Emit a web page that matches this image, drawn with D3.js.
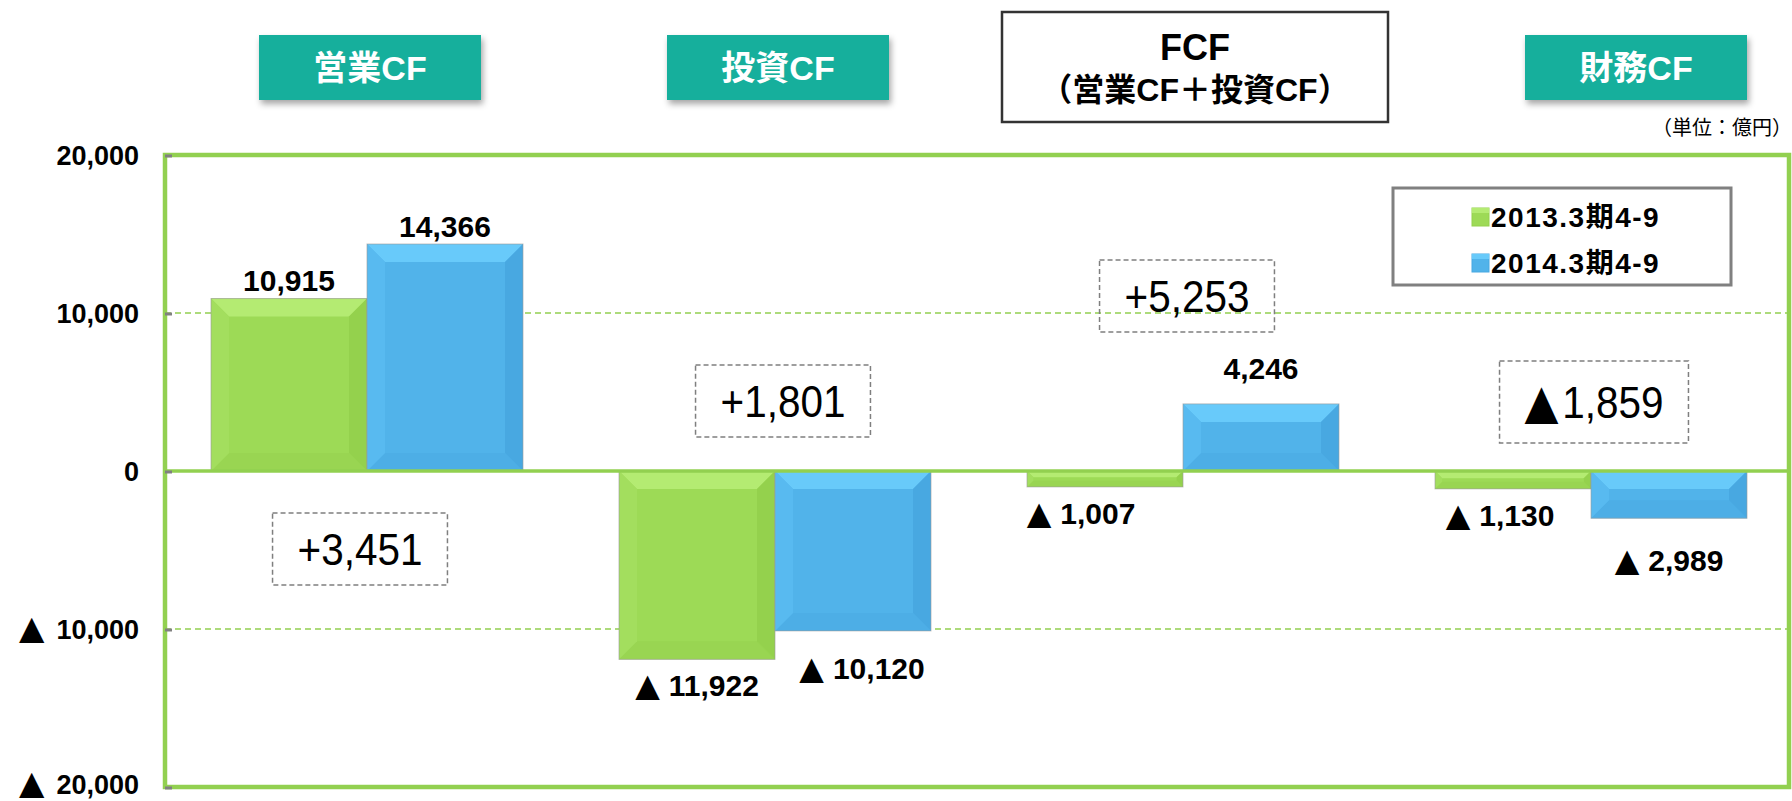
<!DOCTYPE html>
<html>
<head>
<meta charset="utf-8">
<script src="https://cdn.jsdelivr.net/npm/d3@7"></script>
<style>
  html, body { margin: 0; padding: 0; background: #fff; }
  svg { display: block; }
  text { font-family: "Liberation Sans", "Noto Sans CJK JP", sans-serif; }
  .tri { font-family: "DejaVu Sans", "Noto Sans CJK JP", sans-serif; }
</style>
</head>
<body>
<div id="chart"></div>
<script>
// data
const categories = ["営業CF", "投資CF", "FCF", "財務CF"];
const seriesNames = ["2013.3期4-9", "2014.3期4-9"];
const values2013 = [10915, -11922, -1007, -1130];
const values2014 = [14366, -10120, 4246, -2989];
const differences = [3451, 1801, 5253, -1859];
const yTicks = [20000, 10000, 0, -10000, -20000];
const fcfSubtitle = "（営業CF＋投資CF）";
const unitLabel = "（単位：億円）";

// layout tweaks (annotation placement only)
const headerShift = [3, 3, 12, 45];
const diffShift = [-7, 8, 4, 3];
const diffCenter = [-4940, 4430, 11070, 4370];
const labelNudge = { "投資CF-1": [9, 11], "FCF-0": [-24, 0], "FCF-1": [0, -18], "財務CF-0": [-13, 0], "財務CF-1": [0, 16] };

const W = 1792, H = 801;
const svg = d3.select("#chart").append("svg")
  .attr("width", W).attr("height", H)
  .attr("viewBox", `0 0 ${W} ${H}`);

const defs = svg.append("defs");
const sh = defs.append("filter").attr("id", "shadow")
  .attr("x", "-10%").attr("y", "-20%").attr("width", "130%").attr("height", "160%");
sh.append("feDropShadow").attr("dx", 2).attr("dy", 4).attr("stdDeviation", 3)
  .attr("flood-color", "#000").attr("flood-opacity", 0.35);

// scales
const x0 = d3.scaleBand().domain(categories).range([163, 1795]);
const x1 = d3.scaleBand().domain(seriesNames).range([48, 360]);
const y = d3.scaleLinear().domain([-20000, 20000]).range([787, 155]);

const frameL = 165, frameR = 1789;
const fmt = d3.format(",");

// write "▲ 1,234" style text with a bigger triangle
function triText(sel, v, gap, triSize) {
  if (v < 0) {
    sel.append("tspan").attr("class", "tri").style("font-size", triSize).text("▲");
    sel.append("tspan").attr("dx", gap).text(fmt(-v));
  } else {
    sel.text(fmt(v));
  }
}

const palette = {
  "2013.3期4-9": { base: "#9DDA56", top: "#B4EB72", left: "#A3DE5E", right: "#94D14D", bottom: "#99D552" },
  "2014.3期4-9": { base: "#51B3EA", top: "#68CAFA", left: "#58BAF0", right: "#48A8E1", bottom: "#4DAEE6" }
};

const rows = categories.map((c, i) => ({
  cat: c,
  values: [
    { s: seriesNames[0], v: values2013[i], key: c + "-0" },
    { s: seriesNames[1], v: values2014[i], key: c + "-1" }
  ]
}));

// grid lines
svg.append("g").selectAll("line")
  .data(yTicks.filter(t => t !== 0 && Math.abs(t) < 20000))
  .join("line")
  .attr("x1", frameL).attr("x2", frameR)
  .attr("y1", d => y(d)).attr("y2", d => y(d))
  .attr("stroke", "#92D050").attr("stroke-width", 1.6)
  .attr("stroke-dasharray", "6,4");

// bars with bevel
const barG = svg.append("g");
rows.forEach(r => {
  r.values.forEach(d => {
    const bx = x0(r.cat) + x1(d.s), bw = x1.bandwidth();
    const by = y(Math.max(d.v, 0)), bh = Math.abs(y(d.v) - y(0));
    const c = palette[d.s];
    const b = Math.min(18, bh * 0.4, bw * 0.15);
    const g = barG.append("g");
    g.append("rect").attr("x", bx).attr("y", by).attr("width", bw).attr("height", bh)
      .attr("fill", c.base);
    const polys = [
      [c.top, [[bx, by], [bx + bw, by], [bx + bw - b, by + b], [bx + b, by + b]]],
      [c.bottom, [[bx, by + bh], [bx + bw, by + bh], [bx + bw - b, by + bh - b], [bx + b, by + bh - b]]],
      [c.left, [[bx, by], [bx + b, by + b], [bx + b, by + bh - b], [bx, by + bh]]],
      [c.right, [[bx + bw, by], [bx + bw - b, by + b], [bx + bw - b, by + bh - b], [bx + bw, by + bh]]]
    ];
    polys.forEach(p => g.append("polygon")
      .attr("points", p[1].map(q => q.join(",")).join(" "))
      .attr("fill", p[0]));
    g.append("rect").attr("x", bx).attr("y", by).attr("width", bw).attr("height", bh)
      .attr("fill", "none").attr("stroke", "#9a9a9a").attr("stroke-width", 1).attr("stroke-opacity", 0.6);
  });
});

// zero line and frame
svg.append("line")
  .attr("x1", frameL).attr("x2", frameR).attr("y1", y(0)).attr("y2", y(0))
  .attr("stroke", "#92D050").attr("stroke-width", 3.5);
svg.append("rect")
  .attr("x", frameL).attr("y", y(20000))
  .attr("width", frameR - frameL).attr("height", y(-20000) - y(20000))
  .attr("fill", "none").attr("stroke", "#92D050").attr("stroke-width", 4.5);

// left axis tick marks
svg.append("g").selectAll("line")
  .data(yTicks)
  .join("line")
  .attr("x1", frameL).attr("x2", frameL + 7)
  .attr("y1", d => y(d) + 1).attr("y2", d => y(d) + 1)
  .attr("stroke", "#808080").attr("stroke-width", 3);

// y tick labels
svg.append("g").selectAll("text")
  .data(yTicks)
  .join("text")
  .attr("x", 139).attr("y", d => Math.min(y(d), 784))
  .attr("dy", "0.36em")
  .attr("text-anchor", "end")
  .style("font-size", "27px").style("font-weight", "bold")
  .attr("fill", "#000")
  .each(function (d) { triText(d3.select(this), d, 12, "33px"); });

// value labels
const labG = svg.append("g");
rows.forEach(r => {
  r.values.forEach(d => {
    const cx = x0(r.cat) + x1(d.s) + x1.bandwidth() / 2;
    const cy = d.v >= 0 ? y(d.v) - 18 : y(d.v) + 26;
    const n = labelNudge[d.key] || [0, 0];
    const t = labG.append("text")
      .attr("x", cx + n[0]).attr("y", cy + n[1])
      .attr("dy", "0.36em")
      .attr("text-anchor", "middle")
      .style("font-size", "30px").style("font-weight", "bold")
      .attr("fill", "#000");
    triText(t, d.v, 9, "32px");
  });
});

// difference boxes
categories.forEach((c, i) => {
  const cx = x0(c) + x0.bandwidth() / 2 + diffShift[i];
  const cy = y(diffCenter[i]);
  const g = svg.append("g").attr("transform", `translate(${cx},${cy})`);
  const v = differences[i];
  const t = g.append("text")
    .attr("transform", "scale(0.92,1)")
    .attr("text-anchor", "middle").attr("dy", "0.36em")
    .style("font-size", "44px")
    .attr("fill", "#000");
  if (v < 0) triText(t, v, 4, "48px");
  else t.text("+" + fmt(v));
  const bb = t.node().getBBox();
  const w = bb.width * 0.92 + 50, h = v < 0 ? 82 : 72;
  g.insert("rect", "text")
    .attr("x", -w / 2).attr("y", -h / 2).attr("width", w).attr("height", h)
    .attr("fill", "none").attr("stroke", "#7f7f7f").attr("stroke-width", 1.5)
    .attr("stroke-dasharray", "5,3");
});

// category headers
categories.forEach((c, i) => {
  const cx = x0(c) + x0.bandwidth() / 2 + headerShift[i];
  if (c === "FCF") {
    svg.append("rect")
      .attr("x", cx - 193).attr("y", 12).attr("width", 386).attr("height", 110)
      .attr("fill", "#fff").attr("stroke", "#333").attr("stroke-width", 2.5);
    svg.append("text")
      .attr("x", cx).attr("y", 60).attr("text-anchor", "middle")
      .style("font-size", "36px").style("font-weight", "bold")
      .text(c);
    svg.append("text")
      .attr("x", cx).attr("y", 101).attr("text-anchor", "middle")
      .style("font-size", "32px").style("font-weight", "bold")
      .text(fcfSubtitle);
  } else {
    svg.append("rect")
      .attr("x", cx - 111).attr("y", 35).attr("width", 222).attr("height", 65)
      .attr("fill", "#17AF9C").attr("filter", "url(#shadow)");
    svg.append("text")
      .attr("x", cx).attr("y", 68).attr("dy", "0.36em").attr("text-anchor", "middle")
      .style("font-size", "34px").style("font-weight", "bold")
      .attr("fill", "#fff")
      .text(c);
  }
});

// unit label
svg.append("text")
  .attr("x", 1792).attr("y", 128).attr("dy", "0.36em").attr("text-anchor", "end")
  .style("font-size", "20px")
  .style("font-family", "'Noto Sans CJK JP', sans-serif")
  .text(unitLabel);

// legend
const leg = svg.append("g");
leg.append("rect")
  .attr("x", 1393).attr("y", 188).attr("width", 338).attr("height", 97)
  .attr("fill", "#fff").attr("stroke", "#808080").attr("stroke-width", 3);
seriesNames.forEach((s, i) => {
  const ly = 217 + i * 46;
  const c = palette[s];
  leg.append("rect")
    .attr("x", 1472).attr("y", ly - 9).attr("width", 17).attr("height", 18)
    .attr("fill", c.base).attr("stroke", c.right).attr("stroke-width", 1);
  leg.append("rect")
    .attr("x", 1472).attr("y", ly - 9).attr("width", 17).attr("height", 5)
    .attr("fill", c.top);
  leg.append("text")
    .attr("x", 1491).attr("y", ly).attr("dy", "0.36em")
    .style("font-size", "28px").style("font-weight", "bold")
    .style("letter-spacing", "1.5px")
    .text(s);
});
</script>
</body>
</html>
